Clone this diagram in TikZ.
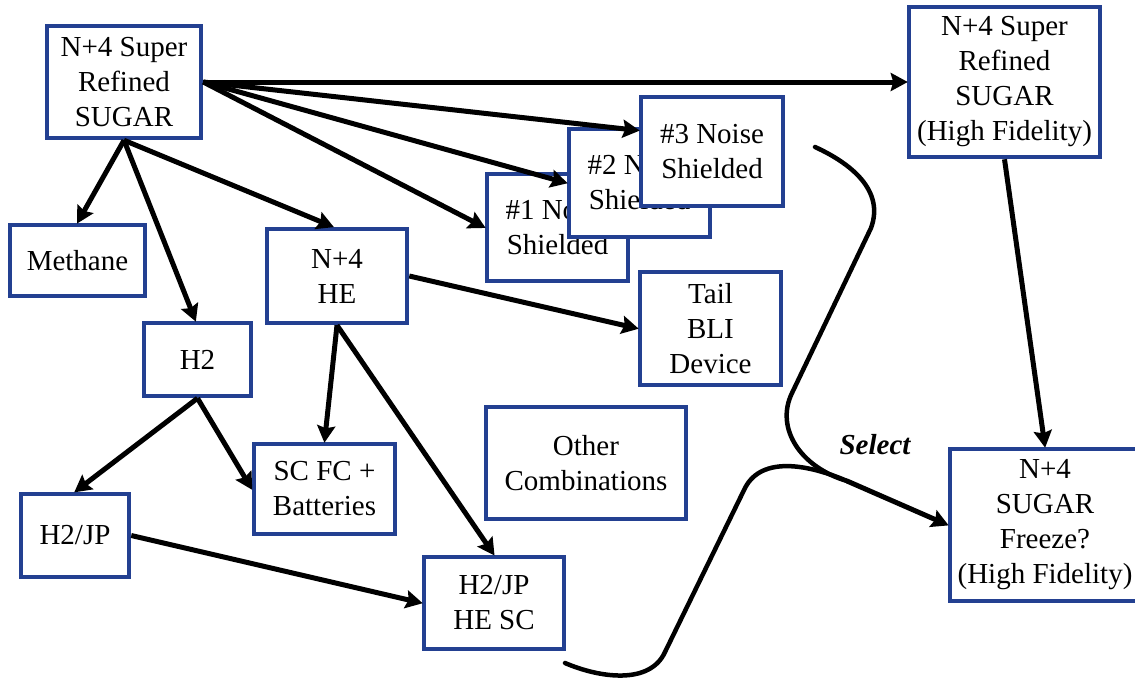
\documentclass[tikz,border=0pt]{standalone}
\usepackage{fontspec}
\setmainfont{Liberation Serif}
\usetikzlibrary{arrows.meta,calc}
\definecolor{boxblue}{RGB}{35,64,145}
\tikzset{
  bx/.style={draw=boxblue, line width=4.5pt, fill=white, inner sep=0pt, align=center,
    font=\fontsize{29}{35}\selectfont, minimum width=#1},
  arr/.style={line width=5pt, -{Stealth[length=17pt,width=18pt,inset=2.5pt]}, shorten >=-1pt},
  crv/.style={line width=4.5pt, line cap=round}
}
\begin{document}
\begin{tikzpicture}[x=1pt,y=-1pt]
\useasboundingbox (0,0) rectangle (1135,680);
\node[bx=154pt, minimum height=112pt] (sugar) at (124,82) {N+4 Super\\Refined\\SUGAR};
\node[bx=135pt, minimum height=71pt] (methane) at (77.5,260.5) {Methane};
\node[bx=107pt, minimum height=73pt] (h2) at (197.5,359.5) {H2};
\node[bx=140pt, minimum height=94pt] (he) at (337,276) {N+4\\HE};
\node[bx=141pt, minimum height=90pt] (scfc) at (324.5,489) {SC FC +\\Batteries};
\node[bx=108pt, minimum height=83pt] (h2jp) at (75,535.5) {H2/JP};
\node[bx=140pt, minimum height=92pt] (hesc) at (494,603) {H2/JP\\HE SC};
\node[bx=141pt, minimum height=107pt] (ns1) at (557.5,227.5) {\#1 Noise\\Shielded};
\node[bx=141pt, minimum height=108pt] (ns2) at (639.5,183) {\#2 Noise\\Shielded};
\node[bx=142pt, minimum height=109pt] (ns3) at (712,151.5) {\#3 Noise\\Shielded};
\node[bx=141pt, minimum height=113pt] (tail) at (710.5,328.5) {Tail\\BLI\\Device};
\node[bx=200pt, minimum height=112pt] (other) at (586,463) {Other\\Combinations};
\node[bx=191pt, minimum height=150pt] (hf) at (1004.5,82) {N+4 Super\\Refined\\SUGAR\\(High Fidelity)};
\node[bx=190pt, minimum height=152pt] (freeze) at (1045,525) {N+4\\SUGAR\\Freeze?\\(High Fidelity)};
\node[font=\fontsize{29}{35}\selectfont\bfseries\itshape] (sel) at (875,445) {Select};

\draw[arr] (sugar.east) -- (hf.west);
\draw[arr] (sugar.east) -- ([yshift=21pt]ns3.west);
\draw[arr] (sugar.east) -- (ns2.west);
\draw[arr] (sugar.east) -- (ns1.west);
\draw[arr] (sugar.south) -- (methane.north);
\draw[arr] (sugar.south) -- ([xshift=-2pt]h2.north);
\draw[arr] (sugar.south) -- ([xshift=-4pt]he.north);
\draw[arr] (he.east) -- (tail.west);
\draw[arr] (he.south) -- (scfc.north);
\draw[arr] (he.south) -- (hesc.north);
\draw[arr] (h2.south) -- (h2jp.north);
\draw[arr] (h2.south) -- (scfc.west);
\draw[arr] (h2jp.east) -- (hesc.west);
\draw[arr] (hf.south) -- (freeze.north);

\coordinate (c1) at (815,147);
\coordinate (c2) at (565,663);
\coordinate (j) at (847,481);
\draw[crv] (c1) .. controls (850,163) and (885,190) .. (871,228) -- (792,393) .. controls (775,428) and (800,467) .. (j);
\draw[crv] (c2) .. controls (600,678) and (650,685) .. (665,652) -- (745,488) .. controls (762,455) and (810,465) .. (j);
\draw[arr] (j) -- (freeze.west);
\end{tikzpicture}
\end{document}
